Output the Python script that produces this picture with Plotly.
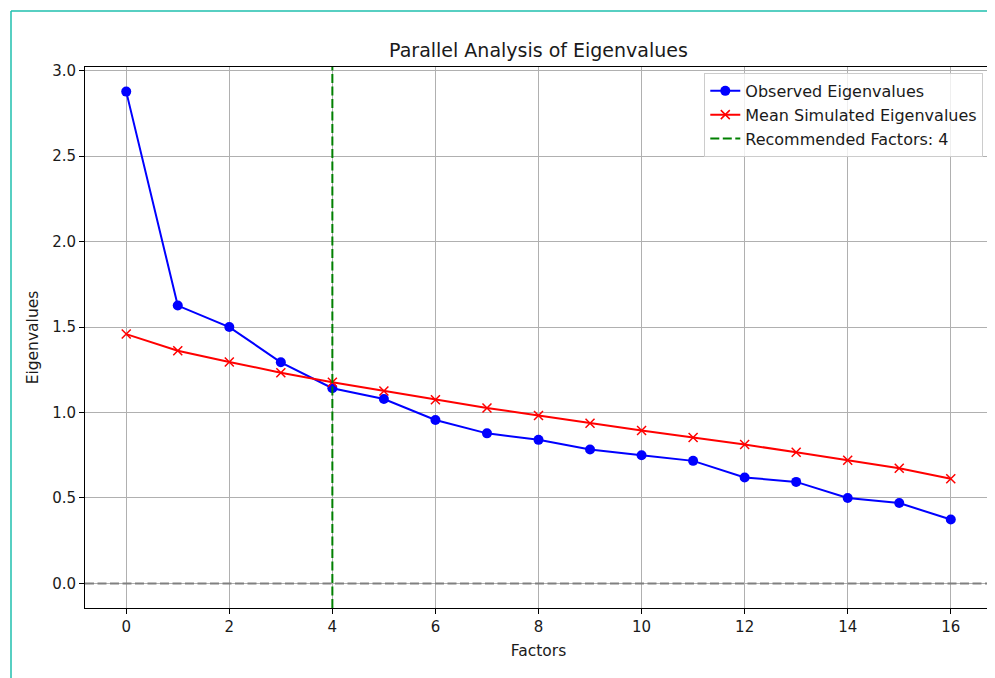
import plotly.graph_objects as go

factors = list(range(17))
observed = [2.878, 1.626, 1.500, 1.294, 1.142, 1.079, 0.956, 0.878, 0.840, 0.784,
            0.750, 0.717, 0.620, 0.594, 0.500, 0.470, 0.374]
simulated = [1.459, 1.362, 1.296, 1.233, 1.177, 1.126, 1.075, 1.026, 0.983, 0.937,
             0.895, 0.854, 0.813, 0.767, 0.721, 0.674, 0.612]
recommended = 4
x_ticks = list(range(0, 17, 2))
y_ticks = [0.0, 0.5, 1.0, 1.5, 2.0, 2.5, 3.0]

FONT = "DejaVu Sans"
TXT = "#1a1a1a"
DASH = "9px,3.5px"

fig = go.Figure()
fig.add_trace(go.Scatter(
    x=factors, y=observed, mode="lines+markers", name="Observed Eigenvalues",
    line=dict(color="#0000ff", width=2),
    marker=dict(symbol="circle", size=10, color="#0000ff"),
))
fig.add_trace(go.Scatter(
    x=factors, y=simulated, mode="lines+markers", name="Mean Simulated Eigenvalues",
    line=dict(color="#ff0000", width=2),
    marker=dict(symbol="x-thin", size=9, color="#ff0000",
                line=dict(color="#ff0000", width=1.5)),
))
fig.add_trace(go.Scatter(
    x=[recommended, recommended], y=[-0.144, 3.022], mode="lines",
    name=f"Recommended Factors: {recommended}",
    line=dict(color="#008000", width=2, dash=DASH),
))
fig.add_trace(go.Scatter(
    x=[-0.8, 16.8], y=[0, 0], mode="lines", showlegend=False,
    line=dict(color="#808080", width=2, dash=DASH), hoverinfo="skip",
))

fig.update_layout(
    width=987, height=670,
    margin=dict(l=77, r=3, t=59, b=70),
    paper_bgcolor="white", plot_bgcolor="white",
    font=dict(family=FONT, size=15, color=TXT),
    title=dict(text="Parallel Analysis of Eigenvalues", x=530.5 / 987, xanchor="center",
               xref="container", y=1 - 42.6 / 670, yanchor="middle", yref="container",
               font=dict(family=FONT, size=19, color=TXT)),
    legend=dict(x=0.9904, y=0.989, xanchor="right", yanchor="top",
                bgcolor="rgba(255,255,255,0.8)", bordercolor="#cccccc", borderwidth=1,
                font=dict(family=FONT, size=16, color=TXT),
                tracegroupgap=0, itemwidth=30),
    showlegend=True,
)
fig.update_xaxes(
    range=[-0.8, 16.8], tickvals=x_ticks, ticks="outside", ticklen=5, tickcolor="black",
    tickfont=dict(family=FONT, size=15, color=TXT),
    showline=True, linecolor="black", linewidth=1, mirror=True,
    showgrid=True, gridcolor="#b0b0b0", gridwidth=1, zeroline=False,
    title=dict(text="Factors", standoff=10, font=dict(family=FONT, size=15.5, color=TXT)),
)
fig.update_yaxes(
    range=[-0.144, 3.022], tickvals=y_ticks, tickformat=".1f", ticks="outside",
    ticklen=5, tickcolor="black",
    tickfont=dict(family=FONT, size=15, color=TXT),
    showline=True, linecolor="black", linewidth=1, mirror=True,
    showgrid=True, gridcolor="#b0b0b0", gridwidth=1, zeroline=False,
    title=dict(text="Eigenvalues", standoff=9, font=dict(family=FONT, size=15.5, color=TXT)),
)

# teal screenshot frame
fig.add_shape(type="line", xref="paper", yref="paper",
              x0=-74 / 907, x1=-74 / 907, y0=-80 / 541, y1=(541 + 56) / 541,
              line=dict(color="#1fbfae", width=1.5))
fig.add_shape(type="line", xref="paper", yref="paper",
              x0=-74 / 907, x1=1.01, y0=(541 + 56) / 541, y1=(541 + 56) / 541,
              line=dict(color="#1fbfae", width=1.5))

fig.write_html("out.html")
